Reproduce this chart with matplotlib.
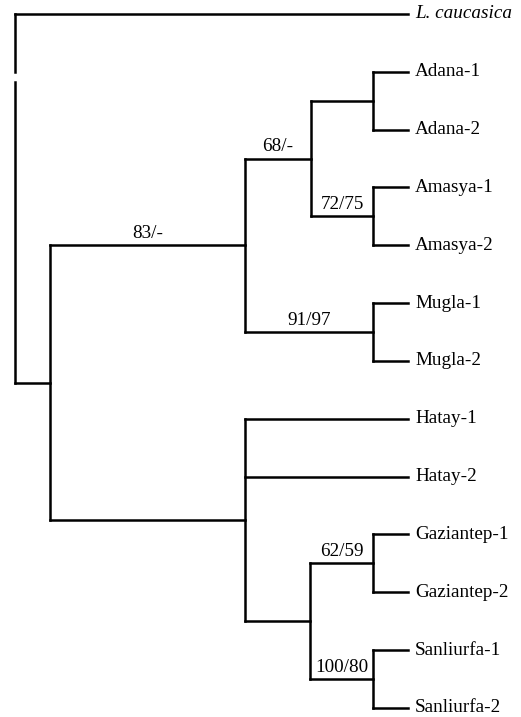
import matplotlib
matplotlib.use("Agg")
import matplotlib.pyplot as plt

# ---- data ----
tip_labels = ["L. caucasica", "Adana-1", "Adana-2", "Amasya-1", "Amasya-2",
              "Mugla-1", "Mugla-2", "Hatay-1", "Hatay-2",
              "Gaziantep-1", "Gaziantep-2", "Sanliurfa-1", "Sanliurfa-2"]
tip_parent = ["root", "adana", "adana", "amasya", "amasya", "mugla", "mugla",
              "east", "east", "gaz", "gaz", "san", "san"]
tip_length = [393, 35, 35, 35, 35, 35, 35, 163, 163, 35, 35, 35, 35]

clade_names = ["root", "ingroup", "west", "adana_amasya", "adana", "amasya",
               "mugla", "east", "gaz_san", "gaz", "san"]
clade_parent = [None, "root", "ingroup", "west", "adana_amasya", "adana_amasya",
                "west", "ingroup", "east", "gaz_san", "gaz_san"]
clade_length = [0, 35, 195, 66, 62, 62, 128, 195, 65, 63, 63]
clade_support = ["", "", "83/-", "68/-", "", "72/75", "91/97", "", "", "62/59", "100/80"]

# ---- layout ----
depth = {}
for n, p, L in zip(clade_names, clade_parent, clade_length):
    depth[n] = (depth[p] if p else 0) + L
tip_depth = [depth[p] + L for p, L in zip(tip_parent, tip_length)]

children = {n: [] for n in clade_names}
for n, p in zip(clade_names, clade_parent):
    if p:
        children[p].append(("c", n))
for i, p in enumerate(tip_parent):
    children[p].append(("t", i))

ypos = {}
def node_y(kind, key):
    if kind == "t":
        return float(key)
    ys = [node_y(k, c) for k, c in children[key]]
    y = (min(ys) + max(ys)) / 2
    ypos[key] = (min(ys), max(ys), y)
    return y
node_y("c", "root")

fig = plt.figure(figsize=(5.21, 7.17), dpi=100)
ax = fig.add_axes([0, 0, 1, 1])
ax.set_xlim(-15, 506)
sp = 57.83
ax.set_ylim((717 - 14) / sp, -14 / sp)
ax.axis("off")

lw = 1.8
kw = dict(color="black", lw=lw, solid_capstyle="projecting")
serif = ["Liberation Serif", "DejaVu Serif"]
fs = 13.8

# vertical lines at internal nodes
for n in clade_names:
    y0, y1, y = ypos[n]
    x = depth[n]
    if n == "root":
        brk0, brk1 = 1.0, 1.18
        ax.plot([x, x], [y0, brk0], **kw)
        ax.plot([x, x], [brk1, y1], **kw)
    else:
        ax.plot([x, x], [y0, y1], **kw)

# horizontal branches to clades
for n, p, s in zip(clade_names, clade_parent, clade_support):
    if not p:
        continue
    y = ypos[n][2]
    ax.plot([depth[p], depth[n]], [y, y], **kw)
    if s:
        ax.annotate(s, ((depth[p] + depth[n]) / 2, y), xytext=(0, 2.5),
                    textcoords="offset points", ha="center", va="bottom",
                    fontsize=fs, family=serif)

# horizontal branches to tips
for i, (lab, p, d) in enumerate(zip(tip_labels, tip_parent, tip_depth)):
    ax.plot([depth[p], d], [i, i], **kw)
    style = "italic" if i == 0 else "normal"
    ax.text(d + 7, i, lab, ha="left", va="center", fontsize=fs,
            family=serif, style=style)

fig.savefig("out.png", dpi=100)
